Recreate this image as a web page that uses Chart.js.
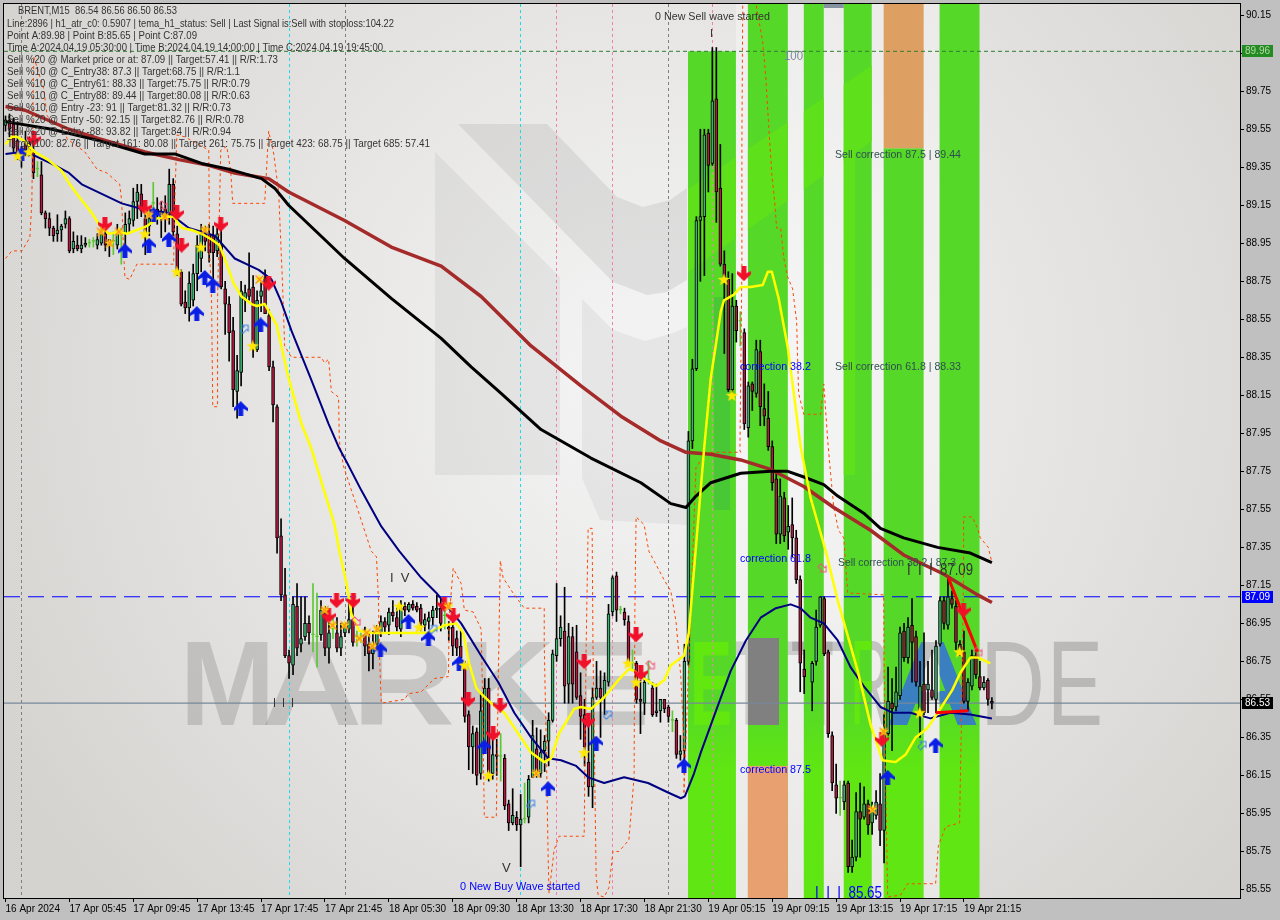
<!DOCTYPE html>
<html>
<head>
<meta charset="utf-8">
<title>BRENT,M15</title>
<script src="https://cdn.jsdelivr.net/npm/chart.js@4"></script>
<style>
  html, body { margin: 0; padding: 0; background: #c0c0c0; }
  canvas { display: block; }
</style>
</head>
<body>
<canvas id="priceChart" width="1280" height="920"></canvas>
<script>
// candles, one entry per M15 bar
const opens = [
  89.57,89.60,89.58,89.49,89.41,89.49,89.43,89.43,89.34,89.31,
  89.11,89.08,89.03,89.00,89.02,89.05,89.08,88.92,88.94,88.92,
  88.94,88.95,88.96,88.94,88.95,89.00,88.97,88.96,88.94,88.99,
  89.00,89.05,89.07,89.17,89.21,89.08,89.04,89.16,89.13,89.09,
  89.13,89.10,89.26,89.00,88.80,88.64,88.61,88.65,88.79,88.87,
  89.00,89.00,88.99,88.91,88.94,88.71,88.63,88.49,88.17,88.27,
  88.65,88.71,88.72,88.39,88.67,88.77,88.57,88.30,88.09,87.41,
  87.10,86.78,86.73,87.04,86.84,86.88,86.95,86.89,86.88,86.89,
  87.02,86.82,86.92,86.90,86.82,86.90,86.92,86.97,86.88,86.88,
  86.89,86.84,86.79,86.84,86.90,86.96,86.94,87.01,86.98,86.92,
  87.04,87.02,87.05,87.04,87.03,86.94,86.96,86.98,87.02,87.03,
  86.99,86.93,86.93,86.87,86.83,86.73,86.47,86.30,86.38,86.16,
  86.28,86.61,86.16,86.26,86.25,86.24,86.00,85.90,85.93,85.89,
  85.92,85.93,86.14,86.29,86.16,86.28,86.33,86.44,86.78,86.87,
  86.91,86.63,86.88,86.80,86.57,86.47,86.22,86.09,86.56,86.61,
  86.56,86.64,87.01,87.20,87.02,87.01,86.96,86.74,86.74,86.55,
  86.53,86.65,86.61,86.48,86.49,86.55,86.51,86.44,86.44,86.26,
  86.28,86.75,87.91,88.29,89.07,89.09,89.53,89.37,89.71,89.24,
  88.84,88.76,88.18,88.62,88.54,88.48,87.98,88.21,88.16,88.38,
  88.08,88.03,87.88,87.71,87.42,87.61,87.43,87.47,87.40,87.18,
  86.71,null,86.64,86.75,86.94,87.08,86.80,86.36,86.10,86.03,
  86.01,86.11,85.67,85.72,85.96,85.93,86.00,85.90,85.94,86.00,
  85.86,86.37,86.53,86.51,86.57,86.91,86.77,86.94,86.88,86.48,
  86.63,86.60,86.60,86.55,86.84,87.07,86.94,87.08,87.04,86.84,
  86.80,86.54,86.62,86.78,86.67,86.61,86.65,86.54
];
const highs = [
  89.62,89.63,89.61,89.59,89.46,89.54,89.51,89.47,89.38,89.38,
  89.12,89.11,89.04,89.10,89.05,89.12,89.09,89.01,88.99,88.99,
  88.98,88.97,88.98,89.00,89.03,89.03,88.97,89.01,89.05,89.03,
  89.11,89.12,89.24,89.26,89.26,89.10,89.13,89.27,89.19,89.17,
  89.20,89.34,89.29,89.04,88.81,88.70,88.80,88.84,88.99,89.05,
  89.04,89.05,89.04,89.03,89.06,88.75,88.67,88.56,88.36,88.75,
  88.73,88.90,88.78,88.70,88.75,88.81,88.60,88.33,88.10,87.50,
  87.24,86.81,87.09,87.16,87.09,87.09,86.99,87.16,87.11,87.07,
  87.04,86.96,86.98,86.98,86.95,86.95,87.07,87.04,86.91,86.90,
  86.93,86.90,86.91,86.94,86.99,86.98,87.03,87.07,87.03,87.07,
  87.06,87.06,87.07,87.06,87.05,87.00,87.01,87.04,87.10,87.08,
  87.04,86.96,86.96,86.91,86.92,86.75,86.49,86.41,86.40,86.58,
  86.66,86.66,86.37,86.34,86.37,86.26,86.02,86.08,85.96,86.05,
  86.11,86.15,86.44,86.40,86.39,86.36,86.48,86.81,87.16,86.99,
  87.14,86.95,86.93,86.94,86.69,86.55,86.42,86.61,86.75,86.70,
  86.69,87.05,87.20,87.22,87.04,87.03,86.99,86.81,86.75,86.65,
  86.68,86.75,86.64,86.63,86.55,86.55,86.52,86.49,86.45,86.36,
  86.84,87.96,88.34,89.09,89.55,89.55,89.55,89.98,89.98,89.47,
  88.91,88.80,88.79,88.65,88.59,88.50,88.22,88.22,88.44,88.44,
  88.21,88.17,87.91,87.75,87.71,87.64,87.57,87.61,87.44,87.20,
  86.81,null,86.75,87.02,87.09,87.09,86.81,86.38,86.21,86.12,
  86.12,86.12,85.81,86.06,86.11,86.09,86.02,86.01,86.07,86.16,
  86.47,86.72,86.66,86.72,86.93,86.95,86.98,87.08,86.91,86.75,
  86.90,86.75,86.81,86.86,87.09,87.09,87.19,87.12,87.07,86.86,
  86.91,86.66,86.81,86.81,86.75,86.67,86.66,86.56
];
const lows = [
  89.54,89.51,89.43,89.39,89.35,89.41,89.41,89.29,89.30,89.10,
  89.03,88.99,88.96,88.96,88.96,89.03,88.90,88.90,88.91,88.90,
  88.93,88.93,88.93,88.92,88.94,88.91,88.88,88.89,88.92,88.84,
  88.92,89.00,89.04,89.08,89.09,88.89,88.99,89.13,89.05,88.98,
  89.01,89.05,88.99,88.78,88.62,88.58,88.54,88.62,88.70,88.80,
  88.91,88.85,88.69,88.88,88.71,88.47,88.33,88.09,88.03,88.20,
  88.59,88.65,88.35,88.38,88.59,88.58,88.28,88.01,87.32,87.07,
  86.77,86.66,86.68,86.78,86.80,86.86,86.84,86.80,86.72,86.86,
  86.78,86.74,86.87,86.80,86.78,86.88,86.90,86.83,86.83,86.85,
  86.78,86.70,86.71,86.83,86.88,86.90,86.89,86.96,86.91,86.88,
  86.99,87.01,87.02,87.01,86.91,86.91,86.92,86.94,86.98,86.91,
  86.92,86.86,86.78,86.78,86.75,86.43,86.18,86.16,86.10,86.13,
  86.27,86.12,86.13,86.15,86.12,85.97,85.86,85.89,85.86,85.67,
  85.90,85.90,86.14,86.14,86.14,86.17,86.20,86.43,86.75,86.83,
  86.53,86.53,86.53,86.55,86.34,86.20,86.04,85.98,86.55,86.35,
  86.47,86.62,86.99,86.96,87.00,86.94,86.73,86.70,86.53,86.37,
  86.47,86.63,86.46,86.46,86.43,86.48,86.43,86.38,86.24,86.23,
  86.20,86.73,87.87,88.28,88.75,88.78,89.22,89.36,89.06,88.83,
  88.37,88.17,88.15,88.43,88.41,87.97,87.93,88.07,88.14,87.99,
  87.99,87.86,87.65,87.37,87.37,87.38,87.34,87.30,87.16,86.59,
  86.58,null,86.49,86.73,86.93,86.78,86.35,86.07,85.95,85.94,
  85.97,85.64,85.64,85.70,85.72,85.92,85.84,85.84,85.92,85.78,
  85.69,86.36,86.28,86.49,86.55,86.75,86.74,86.64,86.62,86.35,
  86.47,86.48,86.55,86.48,86.83,86.92,86.92,87.03,86.81,86.78,
  86.53,86.49,86.60,86.66,86.60,86.60,86.52,86.50
];
const closes = [
  89.60,89.55,89.45,89.42,89.43,89.44,89.47,89.32,89.34,89.11,
  89.08,89.03,88.99,89.02,89.04,89.08,88.91,88.96,88.92,88.94,
  88.95,88.95,88.96,88.97,89.00,88.94,88.94,88.96,89.00,88.99,
  89.05,89.08,89.17,89.22,89.12,89.00,89.08,89.16,89.10,89.12,
  89.08,89.26,89.01,88.80,88.63,88.61,88.74,88.79,88.94,89.00,
  88.96,88.90,88.90,89.00,88.72,88.63,88.48,88.18,88.28,88.70,
  88.69,88.67,88.42,88.65,88.70,88.58,88.30,88.10,87.40,87.10,
  86.78,86.74,87.05,86.82,86.87,86.95,86.90,86.89,86.88,87.02,
  86.82,86.90,86.92,86.82,86.88,86.93,86.97,86.85,86.88,86.88,
  86.83,86.79,86.82,86.90,86.96,86.93,87.01,86.99,86.93,87.03,
  87.02,87.05,87.03,87.02,86.95,86.97,86.98,87.02,87.03,86.95,
  86.99,86.92,86.83,86.82,86.77,86.46,86.30,86.37,86.15,86.49,
  86.61,86.16,86.26,86.25,86.25,85.99,85.90,85.94,85.89,85.92,
  85.92,86.13,86.36,86.15,86.27,86.33,86.44,86.79,86.87,86.93,
  86.62,86.88,86.63,86.56,86.46,86.30,86.09,86.56,86.61,86.56,
  86.65,87.00,87.19,87.02,87.02,86.97,86.74,86.74,86.55,86.54,
  86.64,86.65,86.47,86.49,86.55,86.50,86.46,86.44,86.26,86.28,
  86.75,87.91,88.29,89.07,89.09,89.52,89.36,89.70,89.22,88.84,
  88.77,88.18,88.62,88.49,88.54,88.00,88.20,88.17,88.39,88.09,
  88.04,87.88,87.69,87.42,87.62,87.41,87.46,87.40,87.18,86.74,
  86.67,null,86.74,86.93,87.09,86.79,86.37,86.11,86.03,86.03,
  86.10,85.67,85.72,85.96,85.92,86.00,85.89,85.96,86.01,85.86,
  86.38,86.54,86.50,86.59,86.90,86.77,86.93,86.85,86.64,86.62,
  86.48,86.63,86.56,86.83,87.07,86.95,87.09,87.05,86.85,86.79,
  86.54,86.64,86.78,86.68,86.61,86.64,86.55,86.53
];

// axis ticks
const priceTicks = [90.15,89.95,89.75,89.55,89.35,89.15,88.95,88.75,88.55,88.35,88.15,87.95,87.75,87.55,87.35,87.15,86.95,86.75,86.55,86.35,86.15,85.95,85.75,85.55];
const timeTickBars = [0,16,32,48,64,80,96,112,128,144,160,176,192,208,224,240];
const timeTickLabels = ['16 Apr 2024','17 Apr 05:45','17 Apr 09:45','17 Apr 13:45','17 Apr 17:45','17 Apr 21:45','18 Apr 05:30','18 Apr 09:30','18 Apr 13:30','18 Apr 17:30','18 Apr 21:30','19 Apr 05:15','19 Apr 09:15','19 Apr 13:15','19 Apr 17:15','19 Apr 21:15'];

// indicator lines, bar position and price
const yellowBars = [0,1.6,2.9,4.6,7.4,10.6,14.1,16.1,18.6,21.6,23.4,25.9,28.4,30.4,32.9,35.4,37.9,40.4,42.1,44.1,46.6,49.1,51.6,53.6,55.4,57.1,59.1,61.6,62.9,64.9,67.9,70.9,74.1,76.6,79.6,82.4,83.6,85.4,86.6,88.6,91.6,99.9,105.9,109.9,112.9,114.6,116.1,117.9,119.1,121.6,124.9,128.4,131.6,134.9,136.6,138.6,142.4,144.1,146.6,149.9,153.4,156.1,157.4,159.9,162.9,164.9,166.6,169.9,171.1,174.9,176.6,177.9,179.1,179.9,182.4,184.1,186.6,189.6,190.9,191.9,193.6,195.9,197.4,199.1,201.6,205.4,208.4,213.4,216.6,219.6,222.9,225.4,227.9,230.9,234.1,237.1,239.1,241.6,243.6,246.6];
const yellowPrices = [89.47,89.51,89.51,89.49,89.43,89.39,89.33,89.26,89.19,89.11,89.05,89.00,89.01,89.00,89.02,89.04,89.08,89.09,89.09,89.03,89.02,89.00,88.97,88.94,88.84,88.74,88.67,88.63,88.62,88.63,88.52,88.24,88.00,87.87,87.66,87.47,87.33,87.16,87.00,86.91,86.90,86.90,86.90,86.94,86.95,86.90,86.74,86.61,86.58,86.53,86.48,86.37,86.27,86.22,86.24,86.37,86.50,86.51,86.50,86.56,86.65,86.71,86.70,86.66,86.62,86.65,86.73,86.78,86.90,87.86,88.24,88.42,88.59,88.65,88.68,88.72,88.72,88.73,88.80,88.80,88.66,88.40,88.16,87.88,87.61,87.33,87.07,86.70,86.42,86.23,86.22,86.26,86.35,86.40,86.50,86.60,86.69,86.77,86.77,86.74];
const navyBars = [0,4.1,7.4,12.4,15.9,19.1,24.1,29.1,34.1,40.9,45.9,52.4,57.4,63.4,66.6,68.9,71.6,76.6,80.9,83.6,85.4,89.1,94.1,98.6,104.1,107.9,114.1,119.1,123.4,127.4,131.6,135.9,139.1,142.9,145.9,149.9,154.9,160.9,165.9,169.1,170.1,172.4,174.1,177.9,181.6,185.4,189.1,192.9,196.6,199.1,201.6,204.9,208.4,211.6,214.9,219.1,222.1,226.6,231.6,236.6,241.6,247];
const navyPrices = [89.42,89.43,89.41,89.36,89.32,89.26,89.21,89.16,89.13,89.11,89.03,88.99,88.87,88.81,88.76,88.65,88.49,88.23,88.00,87.87,87.80,87.65,87.46,87.33,87.19,87.11,86.95,86.78,86.64,86.48,86.35,86.24,86.23,86.20,86.14,86.11,86.14,86.11,86.06,86.03,86.04,86.16,86.27,86.49,86.70,86.86,86.98,87.03,87.05,87.03,86.98,86.95,86.86,86.72,86.62,86.51,86.48,86.48,86.45,86.48,86.47,86.45];
const blackBars = [0,11.6,23.4,34.9,42.4,49.1,55.9,64.1,67.4,70.9,78.4,84.9,96.6,109.1,116.6,124.1,134.1,146.6,159.1,166.6,170.4,172.9,176.6,184.1,191.6,195.9,199.9,204.9,208.4,214.9,219.1,224.9,233.4,241.6,247];
const blackPrices = [89.59,89.55,89.49,89.42,89.42,89.37,89.34,89.29,89.24,89.15,89.00,88.87,88.66,88.45,88.30,88.16,87.97,87.82,87.69,87.58,87.56,87.62,87.69,87.74,87.75,87.75,87.72,87.68,87.62,87.53,87.45,87.40,87.35,87.32,87.27];
const brownBars = [0,4.9,15.9,23.4,34.9,43.4,50.9,57.4,65.9,70.9,84.9,96.6,109.1,119.1,131.6,144.1,154.1,164.1,170.4,176.6,184.1,191.6,199.9,207.4,216.6,224.9,234.9,243.4,247];
const brownPrices = [89.67,89.65,89.55,89.50,89.43,89.39,89.36,89.32,89.29,89.22,89.07,88.93,88.83,88.67,88.41,88.20,88.04,87.91,87.85,87.84,87.81,87.76,87.67,87.56,87.44,87.31,87.21,87.10,87.06];

// dashed stop line, in three runs
const stopBarsA = [0,1.6,4.1,6.1,6.6,6.9,7.1,9.6,10.4,14.9,15.4,19.9,22.9,25.4,28.6,29.1,29.6,29.9,31.1,32.9,42.1,42.4,42.9,44.9,50.9,51.1,51.6,51.9,53.1,53.1,53.9,55.4,56.4,56.9,64.9,65.9,67.1,68.4,69.4,69.9,71.6,79.1,79.9,80.9,81.6,83.4,83.6,84.6,91.6,92.9,93.4,93.6,94.1,99.9,100.9,104.1,107.4,110.9,111.1,112.1,114.1,114.9,117.1,119.1,119.4,119.9,122.9,123.4,123.9,124.6,127.1,129.9,134.9,134.9,135.4,135.9,136.1,137.4,138.6,144.9,145.4,145.9,146.9,147.1,147.9,148.4,149.9,151.1,152.1,153.6,156.1,157.4,157.6,157.9,159.9,161.1,164.9,166.6,167.9,169.1,169.9,169.9];
const stopPricesA = [88.87,88.91,88.91,88.98,89.17,89.70,89.93,89.76,89.62,89.54,89.50,89.43,89.34,89.32,89.26,89.17,88.89,88.77,88.76,88.84,88.84,89.17,89.52,89.51,89.44,88.91,88.65,88.09,88.09,88.65,89.44,89.46,89.33,89.16,89.16,89.54,89.43,89.22,88.72,88.41,88.35,88.35,88.32,88.34,88.17,88.14,87.91,87.78,87.33,87.30,87.07,86.81,86.53,86.55,86.58,86.59,86.66,86.67,86.98,87.24,87.16,87.02,87.01,86.92,86.63,85.93,85.93,86.67,87.28,87.19,87.11,87.03,87.03,86.84,86.32,85.70,85.53,85.76,85.83,85.83,86.84,87.45,87.45,86.84,85.62,85.52,85.51,85.56,85.75,85.75,85.81,86.14,87.02,87.51,87.47,87.33,87.18,87.12,86.96,86.67,86.32,86.06];
const stopBarsB = [184.6,184.4,184.4,183.9,184.1,175.9,174.6,172.9,172.4,169.9];
const stopPricesB = [90.20,89.49,88.82,87.86,87.85,87.85,87.82,87.77,87.49,86.06];
const stopBarsC = [188,189.6,190.4,191.1,191.9,192.6,193.1,194.1,194.9,195.9,197.1,198.1,198.6,199.9,204.1,204.9,205.9,206.6,207.4,208.6,209.9,210.9,219.9,220.1,220.9,224.1,225.9,232.9,233.6,235.4,238.9,239.4,239.9,239.9,242.1,243.4,244.1,246.1,247];
const stopPricesC = [90.20,90.01,89.82,89.57,89.31,89.17,89.03,89.03,88.87,88.77,88.71,88.54,88.16,88.05,88.05,88.21,87.91,87.74,87.56,87.44,87.40,87.11,87.10,86.51,85.51,85.52,85.58,85.58,85.78,85.88,85.90,86.46,87.21,87.51,87.51,87.45,87.40,87.35,87.27];

// wave legs in thick red
const legBarsA = [236.1,243.4];
const legPricesA = [87.19,86.80];
const legBarsB = [232.9,241.1];
const legPricesB = [86.48,86.49];

// signal markers
const sellBars = [7.1,24.9,34.9,42.9,44.1,53.9,65.9,80.9,82.9,87.1,109.9,112.1,115.9,122.1,123.9,144.9,145.9,157.9,159.1,184.9,219.4,239.9];
const sellPrices = [89.50,89.05,89.14,89.11,88.94,89.05,88.74,86.99,87.07,87.07,87.05,86.99,86.55,86.37,86.52,86.75,86.44,86.89,86.69,88.79,86.34,87.02];
const buyBars = [4.1,29.9,35.9,37.1,40.9,47.9,49.9,51.9,58.9,63.9,93.9,100.9,105.9,113.6,119.9,135.9,147.9,169.9,220.9,232.9];
const buyPrices = [89.42,88.91,88.94,89.10,88.97,88.58,88.77,88.73,88.08,88.52,86.81,86.96,86.87,86.74,86.30,86.08,86.32,86.20,86.14,86.31];
const starBars = [3.1,5.9,34.9,48.9,42.9,61.9,98.6,103.6,114.9,120.9,144.9,155.9,157.9,179.9,181.9,228.9,238.9];
const starPrices = [89.41,89.43,89.00,88.93,88.80,88.41,87.04,86.93,86.73,86.15,86.27,86.74,86.64,88.76,88.15,86.48,86.80];
const crossBars = [23.9,26.1,28.4,35.9,39.9,49.9,63.6,79.9,81.9,84.9,88.6,90.4,91.9,93.1,110.9,132.9,217.1,219.9];
const crossPrices = [89.01,88.95,89.01,89.10,89.09,89.02,88.76,87.02,86.94,86.94,86.87,86.90,86.83,86.92,87.04,86.16,85.97,86.38];
const hollowBlueBars = [59.9,107.1,131.6,150.9,229.6];
const hollowBluePrices = [88.50,86.92,86.00,86.47,86.31];
const hollowPinkBars = [39.6,87.9,161.6,204.6,243.6];
const hollowPinkPrices = [89.15,86.96,86.73,87.24,86.80];

// levels and separators
const levelPrices = [89.96,87.09,86.53];
const levelColors = ['#228b22','#0000ff','#000000'];
const levelSpan = [-0.375,309.125];
const cyanLines = [70.9,128.9];
const greyLines = [3.9,84.9,165.9];
const pinkLines = [137.9,151.9,176.9];

// zones
const zoneStart = [170.9,185.9,199.9,209.9,219.9,233.9];
const zoneEnd = [182.9,195.9,204.9,216.9,229.9,243.9];
const zoneTop = [89.96,90.21,90.21,90.21,89.45,90.21];
const gapStart = [182.9,195.9,204.9,216.9,229.9];
const gapEnd = [185.9,199.9,209.9,219.9,233.9];

const labels = [
  { t: 'BRENT,M15  86.54 86.56 86.50 86.53', x: 18, y: 10.5, w: 159 },
  { t: 'Line:2896 | h1_atr_c0: 0.5907 | tema_h1_status: Sell | Last Signal is:Sell with stoploss:104.22', x: 7, y: 23.5, w: 387 },
  { t: 'Point A:89.98 | Point B:85.65 | Point C:87.09', x: 7, y: 35.5, w: 190 },
  { t: 'Time A:2024.04.19 05:30:00 | Time B:2024.04.19 14:00:00 | Time C:2024.04.19 19:45:00', x: 7, y: 47.5, w: 376 },
  { t: 'Sell %20 @ Market price or at: 87.09 || Target:57.41 || R/R:1.73', x: 7, y: 59.5, w: 271 },
  { t: 'Sell %10 @ C_Entry38: 87.3 || Target:68.75 || R/R:1.1', x: 7, y: 71.5, w: 233 },
  { t: 'Sell %10 @ C_Entry61: 88.33 || Target:75.75 || R/R:0.79', x: 7, y: 83.5, w: 243 },
  { t: 'Sell %10 @ C_Entry88: 89.44 || Target:80.08 || R/R:0.63', x: 7, y: 95.5, w: 243 },
  { t: 'Sell %10 @ Entry -23: 91 || Target:81.32 || R/R:0.73', x: 7, y: 107.5, w: 224 },
  { t: 'Sell %20 @ Entry -50: 92.15 || Target:82.76 || R/R:0.78', x: 7, y: 119.5, w: 237 },
  { t: 'Sell %20 @ Entry -88: 93.82 || Target:84 || R/R:0.94', x: 7, y: 131.5, w: 224 },
  { t: 'Target100: 82.76 || Target 161: 80.08 || Target 261: 75.75 || Target 423: 68.75 || Target 685: 57.41', x: 7, y: 143.5, w: 423 },
  { t: '0 New Sell wave started', x: 655, y: 17, w: 115 },
  { t: 'I', x: 710, y: 34, w: 4 },
  { t: '100', x: 784, y: 57, w: 19, c: '#778899', s: 12 },
  { t: 'Sell correction 87.5 | 89.44', x: 835, y: 155, w: 126, c: '#2f4f4f' },
  { t: 'Sell correction 61.8 | 88.33', x: 835, y: 367, w: 126, c: '#2f4f4f' },
  { t: 'Sell correction 38.2 | 87.3', x: 838, y: 563, w: 118, c: '#2f4f4f' },
  { t: 'correction 38.2', x: 740, y: 367, w: 71, c: '#0000ff' },
  { t: 'correction 61.8', x: 740, y: 559, w: 71, c: '#0000ff' },
  { t: 'correction 87.5', x: 740, y: 770, w: 71, c: '#0000ff' },
  { t: '0 New Buy Wave started', x: 460, y: 887, w: 120, c: '#0000ff' },
  { t: 'I  I  I  85.65', x: 815, y: 894, w: 67, c: '#0000ff', s: 16 },
  { t: 'I  I  I  87.09', x: 907, y: 571, w: 66, c: '#333333', s: 16 },
  { t: 'I  V', x: 390, y: 578, w: 20, c: '#333333', s: 13 },
  { t: 'V', x: 502, y: 868, w: 10, c: '#333333', s: 13 },
  { t: 'I  I  I', x: 273, y: 703, w: 21, c: '#333333', s: 13 }
];

// watermark letters: letter, left edge, width
const markLetters = [['M',180,95],['A',262,100],['R',352,103],['K',458,97],['E',558,92],['T',690,145]];
const tradeLetters = [['T',790,60],['R',850,40],['A',885,95],['D',980,65],['E',1047,56]];

const pairs = (xs, ys) => xs.map((x, k) => ({ x: x, y: ys[k] }));

const UP = '#3cb371';
const DOWN = '#b0193f';
const DOJI = '#5cc832';

function icon(w, h, paint) {
  const c = document.createElement('canvas');
  c.width = w;
  c.height = h;
  paint(c.getContext('2d'), w, h);
  return c;
}

function poly(g, pts, fill, stroke) {
  g.beginPath();
  pts.forEach((p, k) => k ? g.lineTo(p[0], p[1]) : g.moveTo(p[0], p[1]));
  g.closePath();
  if (fill) { g.fillStyle = fill; g.fill(); }
  if (stroke) { g.strokeStyle = stroke; g.lineWidth = 1; g.stroke(); }
}

function starPath(g, cx, cy, r, fill) {
  const pts = [];
  for (let k = 0; k < 10; k++) {
    const a = -Math.PI / 2 + k * Math.PI / 5;
    const rr = k % 2 ? r * 0.42 : r;
    pts.push([cx + rr * Math.cos(a), cy + rr * Math.sin(a)]);
  }
  poly(g, pts, fill);
}

const sellIcon = icon(14, 15, g => {
  poly(g, [[4.5, 0], [9.5, 0], [9.5, 7], [14, 5], [14, 8], [7, 15], [0, 8], [0, 5], [4.5, 7]], '#f0102a');
});
const buyIcon = icon(14, 15, g => {
  poly(g, [[7, 0], [14, 7], [14, 10], [9.5, 7.5], [9.5, 15], [4.5, 15], [4.5, 7.5], [0, 10], [0, 7]], '#0a1ee6');
});
const starIcon = icon(13, 13, g => starPath(g, 6.5, 7, 6.5, '#ffe800'));
const crossIcon = icon(11, 11, g => {
  starPath(g, 5.5, 5.5, 5.5, '#ffe800');
  g.strokeStyle = '#ff8c20';
  g.lineWidth = 1.2;
  g.beginPath();
  g.moveTo(1.5, 1.5); g.lineTo(9.5, 9.5);
  g.moveTo(9.5, 1.5); g.lineTo(1.5, 9.5);
  g.stroke();
});
const hollowBlue = icon(11, 11, g => {
  g.translate(5.5, 5.5);
  g.rotate(Math.PI / 4);
  poly(g, [[0, -5], [4, -1], [2, -1], [2, 4.5], [-2, 4.5], [-2, -1], [-4, -1]], null, '#3a80e0');
});
const hollowPink = icon(11, 11, g => {
  g.translate(5.5, 5.5);
  g.rotate(Math.PI * 0.75);
  poly(g, [[0, -5], [4, -1], [2, -1], [2, 4.5], [-2, 4.5], [-2, -1], [-4, -1]], null, '#f0507a');
});

const barIdx = opens.map((_, i) => i).filter(i => opens[i] !== null);

function lineSet(xs, ys, color, width, order, dash) {
  return {
    type: 'line', data: pairs(xs, ys), borderColor: color, borderWidth: width,
    pointRadius: 0, tension: 0, fill: false, order: order,
    borderDash: dash || [], borderJoinStyle: 'round', borderCapStyle: 'butt'
  };
}

function markerSet(xs, ys, image) {
  return {
    type: 'line', data: pairs(xs, ys), showLine: false,
    pointStyle: image, pointRadius: 1, pointBorderWidth: 0, borderWidth: 0, order: 1
  };
}

function letters(ctx, list, font, fill) {
  ctx.font = font;
  ctx.fillStyle = fill;
  list.forEach(l => {
    const m = ctx.measureText(l[0]).width;
    ctx.save();
    ctx.translate(l[1], 725);
    ctx.scale(l[2] / m, 1);
    ctx.fillText(l[0], 0, 0);
    ctx.restore();
  });
}

// background and zones go under the candles
const backdrop = {
  id: 'backdrop',
  beforeDatasetsDraw(chart) {
    const { ctx, chartArea: a, scales: { x, y } } = chart;
    const bold = 'bold 121px "Liberation Sans"';
    const thin = '121px "Liberation Sans"';
    ctx.save();
    ctx.beginPath();
    ctx.rect(a.left, a.top, a.right - a.left, a.bottom - a.top);
    ctx.clip();

    const bg = ctx.createRadialGradient(660, 380, 80, 660, 380, 760);
    bg.addColorStop(0, '#f2f2f2');
    bg.addColorStop(0.55, '#e3e2e0');
    bg.addColorStop(1, '#d5d3d0');
    ctx.fillStyle = bg;
    ctx.fillRect(a.left, a.top, a.right - a.left, a.bottom - a.top);

    // logo behind the chart
    poly(ctx, [[458, 124], [547, 124], [617, 197], [643, 207], [670, 200], [687, 188], [687, 280], [667, 292], [647, 295], [613, 282]], 'rgba(150,150,150,0.2)');
    poly(ctx, [[435, 152], [560, 277], [560, 475], [435, 475]], 'rgba(150,150,150,0.13)');
    poly(ctx, [[582, 299], [613, 330], [645, 341], [673, 333], [687, 327], [687, 525], [600, 520], [582, 478]], 'rgba(150,150,150,0.12)');

    gapStart.forEach((s, k) => {
      ctx.fillStyle = 'rgba(255,255,255,0.32)';
      ctx.fillRect(x.getPixelForValue(s), a.top, x.getPixelForValue(gapEnd[k]) - x.getPixelForValue(s), a.bottom - a.top);
    });

    // watermark text on the plain background
    ctx.textBaseline = 'alphabetic';
    ctx.textAlign = 'left';
    letters(ctx, markLetters, bold, 'rgba(95,95,95,0.24)');
    letters(ctx, tradeLetters, thin, 'rgba(95,95,95,0.3)');

    // zones, with the watermark showing through in another colour
    const zoneFill = ctx.createLinearGradient(0, 700, 0, 770);
    zoneFill.addColorStop(0, '#55d828');
    zoneFill.addColorStop(1, '#60e612');
    zoneStart.forEach((s, k) => {
      const left = x.getPixelForValue(s);
      const w = x.getPixelForValue(zoneEnd[k]) - left;
      const top = y.getPixelForValue(zoneTop[k]);
      ctx.fillStyle = zoneFill;
      ctx.fillRect(left, top, w, a.bottom - top);
    });
    ctx.save();
    ctx.beginPath();
    zoneStart.forEach((s, k) => {
      const left = x.getPixelForValue(s);
      const top = y.getPixelForValue(zoneTop[k]);
      ctx.rect(left, top, x.getPixelForValue(zoneEnd[k]) - left, a.bottom - top);
    });
    ctx.clip();
    poly(ctx, [[687, 190], [880, 60], [880, 135], [687, 273]], '#5ee01a');
    ctx.fillStyle = '#5ee01a';
    ctx.fillRect(843, 150, 12, 325);
    ctx.fillStyle = '#48c835';
    ctx.fillRect(714, 297, 16, 213);
    letters(ctx, markLetters.slice(0, 5), bold, '#62e80e');
    letters(ctx, [['E', 690, 42]], bold, '#62e80e');
    letters(ctx, [['R', 850, 40]], thin, '#62e80e');
    letters(ctx, [['A', 885, 95]], bold, '#3a7fc0');
    ctx.fillStyle = '#808080';
    ctx.fillRect(748, 638, 31, 87);
    ctx.restore();

    // orange parts of two zones and the strip along the top
    ctx.fillStyle = '#dd9f62';
    ctx.fillRect(x.getPixelForValue(219.9), a.top, x.getPixelForValue(229.9) - x.getPixelForValue(219.9), y.getPixelForValue(89.45) - a.top);
    ctx.fillStyle = '#e8a070';
    ctx.fillRect(x.getPixelForValue(185.9), y.getPixelForValue(86.2), x.getPixelForValue(195.9) - x.getPixelForValue(185.9), a.bottom - y.getPixelForValue(86.2));
    ctx.fillStyle = '#8492a0';
    ctx.fillRect(x.getPixelForValue(204.9), a.top, x.getPixelForValue(209.9) - x.getPixelForValue(204.9), 4);

    // vertical separators
    const vert = (bars, color) => {
      ctx.strokeStyle = color;
      ctx.lineWidth = 1;
      ctx.setLineDash([3, 3]);
      bars.forEach(b => {
        const px = Math.round(x.getPixelForValue(b)) + 0.5;
        ctx.beginPath();
        ctx.moveTo(px, a.top);
        ctx.lineTo(px, a.bottom);
        ctx.stroke();
      });
    };
    vert(cyanLines, '#18dce6');
    vert(greyLines, '#808080');
    vert(pinkLines, '#f080b0');
    ctx.restore();
  }
};

// texts, frame and price tags go on top
const overlay = {
  id: 'overlay',
  afterDraw(chart) {
    const { ctx, chartArea: a, scales: { y } } = chart;
    ctx.save();
    ctx.textBaseline = 'middle';
    ctx.textAlign = 'left';
    labels.forEach(l => {
      ctx.font = (l.s || 11) + 'px "Liberation Sans"';
      ctx.fillStyle = l.c || '#333333';
      ctx.fillText(l.t, l.x, l.y, l.w);
    });

    ctx.strokeStyle = '#000000';
    ctx.lineWidth = 1;
    ctx.strokeRect(a.left - 0.5, a.top - 0.5, a.right - a.left + 1, a.bottom - a.top + 1);

    levelPrices.forEach((p, k) => {
      const py = y.getPixelForValue(p);
      ctx.fillStyle = levelColors[k];
      ctx.fillRect(1242, Math.round(py) - 6, 31, 12);
      ctx.fillStyle = k === 0 ? '#b8d8a8' : '#ffffff';
      ctx.font = '10px "Liberation Sans"';
      ctx.fillText(p.toFixed(2), 1245, Math.round(py));
    });
    ctx.restore();
  }
};

function noPadding(axis) {
  axis.paddingLeft = 0;
  axis.paddingRight = 0;
  axis.paddingTop = 0;
  axis.paddingBottom = 0;
}

new Chart(document.getElementById('priceChart'), {
  data: {
    datasets: [
      {
        type: 'bar', label: 'wick',
        data: barIdx.map(i => ({ x: i, y: [lows[i], highs[i]] })),
        backgroundColor: barIdx.map(i => opens[i] === closes[i] ? DOJI : '#000000'),
        barThickness: 1, grouped: false, order: 21
      },
      {
        type: 'bar', label: 'body',
        data: barIdx.map(i => ({ x: i, y: [Math.min(opens[i], closes[i]), Math.max(opens[i], closes[i]) + (opens[i] === closes[i] ? 0.005 : 0)] })),
        backgroundColor: barIdx.map(i => opens[i] === closes[i] ? DOJI : (closes[i] > opens[i] ? UP : DOWN)),
        borderColor: barIdx.map(i => opens[i] === closes[i] ? DOJI : '#000000'),
        borderWidth: 1, borderSkipped: false,
        barThickness: 3, grouped: false, order: 20
      },
      lineSet(levelSpan, [levelPrices[0], levelPrices[0]], '#2e7d32', 1, 25, [4, 3]),
      lineSet(levelSpan, [levelPrices[1], levelPrices[1]], '#0000ff', 1.2, 25, [16, 8]),
      lineSet(levelSpan, [levelPrices[2], levelPrices[2]], '#778899', 1.2, 25),
      lineSet(stopBarsA, stopPricesA, '#ff4500', 1, 15, [3, 3]),
      lineSet(stopBarsB, stopPricesB, '#ff4500', 1, 15, [3, 3]),
      lineSet(stopBarsC, stopPricesC, '#ff4500', 1, 15, [3, 3]),
      lineSet(brownBars, brownPrices, '#a52a2a', 3.5, 9),
      lineSet(blackBars, blackPrices, '#000000', 3, 8),
      lineSet(navyBars, navyPrices, '#000080', 2, 7),
      lineSet(yellowBars, yellowPrices, '#ffff00', 2.5, 6),
      lineSet(legBarsA, legPricesA, '#ff0000', 3, 5),
      lineSet(legBarsB, legPricesB, '#ff0000', 3, 5),
      markerSet(crossBars, crossPrices, crossIcon),
      markerSet(starBars, starPrices, starIcon),
      markerSet(sellBars, sellPrices, sellIcon),
      markerSet(buyBars, buyPrices, buyIcon),
      markerSet(hollowBlueBars, hollowBluePrices, hollowBlue),
      markerSet(hollowPinkBars, hollowPinkPrices, hollowPink)
    ]
  },
  options: {
    responsive: false,
    animation: false,
    events: [],
    layout: { padding: { left: 2, top: 2, right: 0, bottom: 0 } },
    plugins: { legend: { display: false }, title: { display: false }, tooltip: { enabled: false } },
    scales: {
      x: {
        type: 'linear',
        offset: false,
        min: -0.375,
        max: 309.125,
        grid: { display: true, offset: false, drawOnChartArea: false, drawTicks: true, tickLength: 4, color: '#000000' },
        border: { color: '#000000' },
        afterBuildTicks: axis => { axis.ticks = timeTickBars.map(v => ({ value: v })); },
        afterFit: axis => { axis.height = 22; noPadding(axis); },
        ticks: {
          autoSkip: false,
          maxRotation: 0,
          minRotation: 0,
          align: 'start',
          padding: 1,
          color: '#000000',
          font: { family: 'Liberation Sans', size: 10 },
          callback: value => timeTickLabels[timeTickBars.indexOf(value)]
        }
      },
      y: {
        type: 'linear',
        position: 'right',
        min: 85.505,
        max: 90.209,
        grid: { display: true, drawOnChartArea: false, drawTicks: true, tickLength: 4, color: '#000000' },
        border: { color: '#000000' },
        afterBuildTicks: axis => { axis.ticks = priceTicks.map(v => ({ value: v })); },
        afterFit: axis => { axis.width = 40; noPadding(axis); },
        ticks: {
          autoSkip: false,
          padding: 2,
          color: '#000000',
          font: { family: 'Liberation Sans', size: 10 },
          callback: value => value.toFixed(2)
        }
      }
    }
  },
  plugins: [backdrop, overlay]
});
</script>
</body>
</html>
